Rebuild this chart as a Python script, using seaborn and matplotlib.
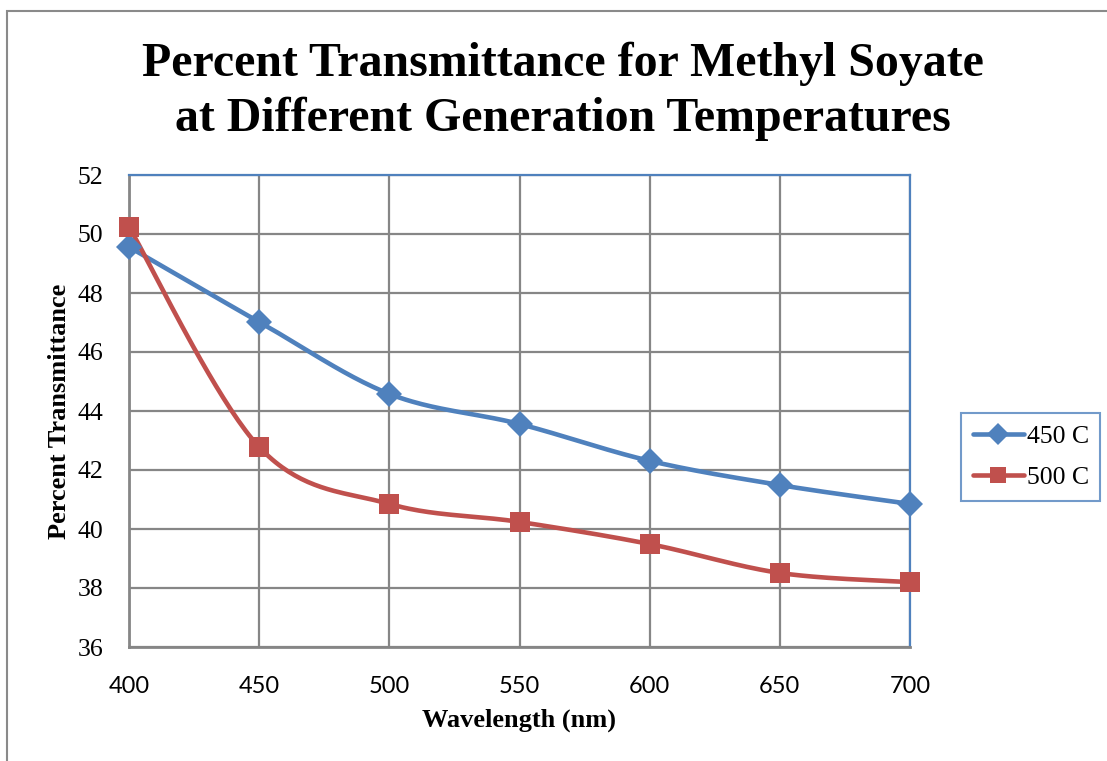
import numpy as np
import pandas as pd
import matplotlib
matplotlib.use("Agg")
import matplotlib.pyplot as plt
import seaborn as sns
from matplotlib.patches import Rectangle
from matplotlib.lines import Line2D

# Wavelength (nm) and percent transmittance for each generation temperature
wavelength = [400, 450, 500, 550, 600, 650, 700]
t450 = [49.56, 47.02, 44.58, 43.56, 42.31, 41.49, 40.85]
t500 = [50.24, 42.78, 40.85, 40.24, 39.49, 38.51, 38.20]
series_names = ["450 C", "500 C"]
y_ticks = [36, 38, 40, 42, 44, 46, 48, 50, 52]
x_ticks = [400, 450, 500, 550, 600, 650, 700]

BLUE = "#4F81BD"
RED = "#C0504D"
GRID = "#868686"


def smooth_curve(x, y, n=40):
    """Catmull-Rom style smoothing (cubic Bezier between successive points)."""
    x = np.asarray(x, float)
    y = np.asarray(y, float)
    xs, ys = [], []
    for i in range(len(x) - 1):
        p0 = (x[i - 1], y[i - 1]) if i > 0 else (x[i], y[i])
        p1 = (x[i], y[i])
        p2 = (x[i + 1], y[i + 1])
        p3 = (x[i + 2], y[i + 2]) if i + 2 < len(x) else (x[i + 1], y[i + 1])
        c1 = (p1[0] + (p2[0] - p0[0]) / 6, p1[1] + (p2[1] - p0[1]) / 6)
        c2 = (p2[0] - (p3[0] - p1[0]) / 6, p2[1] - (p3[1] - p1[1]) / 6)
        t = np.linspace(0, 1, n, endpoint=(i == len(x) - 2))
        bx = ((1 - t) ** 3 * p1[0] + 3 * (1 - t) ** 2 * t * c1[0]
              + 3 * (1 - t) * t ** 2 * c2[0] + t ** 3 * p2[0])
        by = ((1 - t) ** 3 * p1[1] + 3 * (1 - t) ** 2 * t * c1[1]
              + 3 * (1 - t) * t ** 2 * c2[1] + t ** 3 * p2[1])
        xs.append(bx)
        ys.append(by)
    return np.concatenate(xs), np.concatenate(ys)


sns.set_theme(style="white")
plt.rcParams["font.family"] = ["Liberation Serif", "DejaVu Serif"]
plt.rcParams.update({"text.color": "black", "axes.labelcolor": "black",
                     "xtick.color": "black", "ytick.color": "black"})

fig = plt.figure(figsize=(11.07, 7.61), dpi=100)
ax = fig.add_axes([129 / 1107, 1 - 647 / 761, (910 - 129) / 1107, (647 - 175) / 761])

# outer chart frame
fig.patches.append(Rectangle((7 / 1107, -0.05), 1.1, 1 - 11 / 761 + 0.05,
                             transform=fig.transFigure, fill=False,
                             edgecolor="#8a8a8a", linewidth=1.5, zorder=0))

markers = {"450 C": "D", "500 C": "s"}
sizes = {"450 C": 13, "500 C": 14}
colors = {"450 C": BLUE, "500 C": RED}

for name, vals in zip(series_names, [t450, t500]):
    sx, sy = smooth_curve(wavelength, vals)
    curve = pd.DataFrame({"x": sx, "y": sy})
    sns.lineplot(data=curve, x="x", y="y", ax=ax, color=colors[name],
                 linewidth=3.3, sort=False, zorder=3, clip_on=False)
    pts = pd.DataFrame({"x": wavelength, "y": vals})
    sns.lineplot(data=pts, x="x", y="y", ax=ax, color=colors[name],
                 linestyle="none", marker=markers[name],
                 markersize=sizes[name], markeredgewidth=0,
                 zorder=4, clip_on=False)

ax.set_xlim(400, 700)
ax.set_ylim(36, 52)
ax.set_xticks(x_ticks)
ax.set_yticks(y_ticks)
ax.set_xticklabels([str(v) for v in x_ticks], family="Lato", fontsize=17)
ax.set_yticklabels([str(v) for v in y_ticks], family="Liberation Serif", fontsize=18.5)
ax.tick_params(axis="x", pad=21, length=0)
ax.tick_params(axis="y", pad=18.5, length=0)

ax.grid(True, color=GRID, linewidth=1.6)
ax.set_axisbelow(True)
for side in ["top", "right"]:
    ax.spines[side].set_color(BLUE)
    ax.spines[side].set_linewidth(1.6)
for side in ["left", "bottom"]:
    ax.spines[side].set_color(GRID)
    ax.spines[side].set_linewidth(2)

ax.set_xlabel("Wavelength (nm)", fontsize=19, fontweight="bold", va="center")
ax.set_ylabel("Percent Transmittance", fontsize=19, fontweight="bold", va="center")
ax.xaxis.set_label_coords(0.5, -(720 - 647) / 472)
ax.yaxis.set_label_coords(-(129 - 59) / 781, 0.5)

fig.text(563 / 1107, 1 - 64 / 761, "Percent Transmittance for Methyl Soyate",
         ha="center", va="center", fontsize=34.5, fontweight="bold")
fig.text(563 / 1107, 1 - 119 / 761, "at Different Generation Temperatures",
         ha="center", va="center", fontsize=34.5, fontweight="bold")

# legend
handles = [Line2D([], [], color=colors[n], linewidth=3.3, marker=markers[n],
                  markersize=sizes[n] * 0.85, markeredgewidth=0) for n in series_names]
leg = fig.legend(handles, series_names, loc="center left",
                 bbox_to_anchor=(961 / 1107, 1 - 457 / 761),
                 frameon=True, fancybox=False, fontsize=18.5,
                 handlelength=2.0, handletextpad=0.1, labelspacing=0.7,
                 borderpad=0.45, borderaxespad=0)
leg.get_frame().set_edgecolor(BLUE)
leg.get_frame().set_linewidth(1.5)

fig.savefig("out.png", dpi=100)
